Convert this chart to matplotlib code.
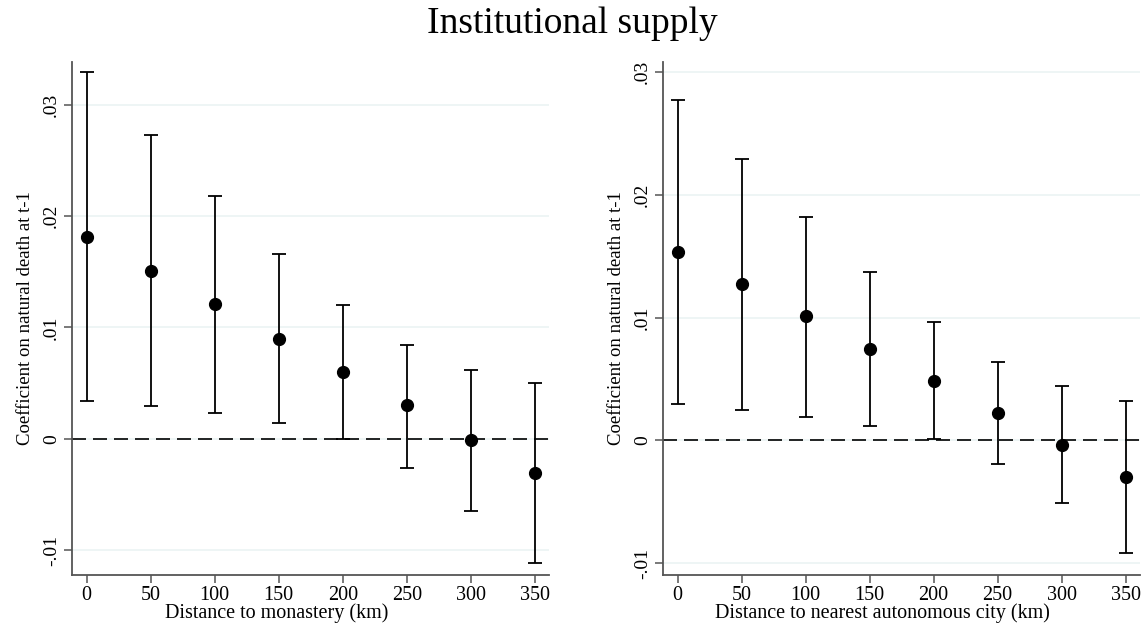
import matplotlib
matplotlib.use("Agg")
import matplotlib.pyplot as plt
import numpy as np

plt.rcParams['font.family'] = ['Liberation Serif', 'DejaVu Serif']

# distance bins (km)
distance = [0, 50, 100, 150, 200, 250, 300, 350]

# left panel: distance to monastery
mon_coef = [0.0181, 0.0151, 0.0121, 0.0090, 0.0060, 0.0030, -0.0001, -0.0031]
mon_lo = [0.0034, 0.0029, 0.0023, 0.0014, 0.0000, -0.0026, -0.0065, -0.0112]
mon_hi = [0.0329, 0.0273, 0.0218, 0.0166, 0.0120, 0.0084, 0.0062, 0.0050]

# right panel: distance to nearest autonomous city
city_coef = [0.0153, 0.0127, 0.0101, 0.0074, 0.0048, 0.0022, -0.0004, -0.0030]
city_lo = [0.0030, 0.0025, 0.0019, 0.0012, 0.0001, -0.0019, -0.0051, -0.0092]
city_hi = [0.0277, 0.0229, 0.0182, 0.0137, 0.0096, 0.0064, 0.0044, 0.0032]

yticks = [-0.01, 0, 0.01, 0.02, 0.03]
ytick_labels = ['-.01', '0', '.01', '.02', '.03']

W, H = 1148, 623
fig = plt.figure(figsize=(W / 100, H / 100), dpi=100)


def px_axes(x0, x1, y0, y1):
    # pixel box -> figure fraction
    return fig.add_axes([x0 / W, 1 - y1 / H, (x1 - x0) / W, (y1 - y0) / H])


def draw_panel(ax, coef, lo, hi, ylim, xlabel, xlabel_pos):
    coef = np.array(coef)
    err = [coef - np.array(lo), np.array(hi) - coef]
    ax.axhline(0, color='black', lw=1.2, dashes=(8.4, 4.2), zorder=2)
    ax.errorbar(distance, coef, yerr=err, fmt='o', color='black', ms=8.5,
                elinewidth=1.3, capsize=5, capthick=1.3, zorder=3)
    ax.set_xlim(-11.2, 361)
    ax.set_ylim(*ylim)
    ax.set_xticks(distance)
    ax.set_yticks(yticks)
    ax.set_yticklabels(ytick_labels, rotation=90, va='center')
    ax.grid(axis='y', color='#eaf2f3', lw=1.1, zorder=0)
    ax.set_axisbelow(True)
    for s in ['top', 'right']:
        ax.spines[s].set_visible(False)
    for s in ['left', 'bottom']:
        ax.spines[s].set_color('#555555')
        ax.spines[s].set_linewidth(1.3)
    ax.tick_params(direction='out', length=6, width=1.1, color='#555555',
                   labelsize=14.5, pad=2)
    ax.tick_params(axis='y', labelsize=14, pad=3)
    ax.set_xlabel(xlabel, fontsize=14.5)
    ax.xaxis.set_label_coords(xlabel_pos, -0.0545)
    ax.set_ylabel('Coefficient on natural death at t-1', fontsize=13.5, labelpad=6)


ax1 = px_axes(72.3, 549, 61.7, 575)
draw_panel(ax1, mon_coef, mon_lo, mon_hi, (-0.01224, 0.03386),
           'Distance to monastery (km)', 0.429)

ax2 = px_axes(663.3, 1139.7, 61.7, 575)
draw_panel(ax2, city_coef, city_lo, city_hi, (-0.01096, 0.03083),
           'Distance to nearest autonomous city (km)', 0.461)

fig.text(572 / W, 1 - 33 / H, 'Institutional supply', ha='center', va='baseline',
         fontsize=27)

plt.savefig('out.png', dpi=100, facecolor='white')
